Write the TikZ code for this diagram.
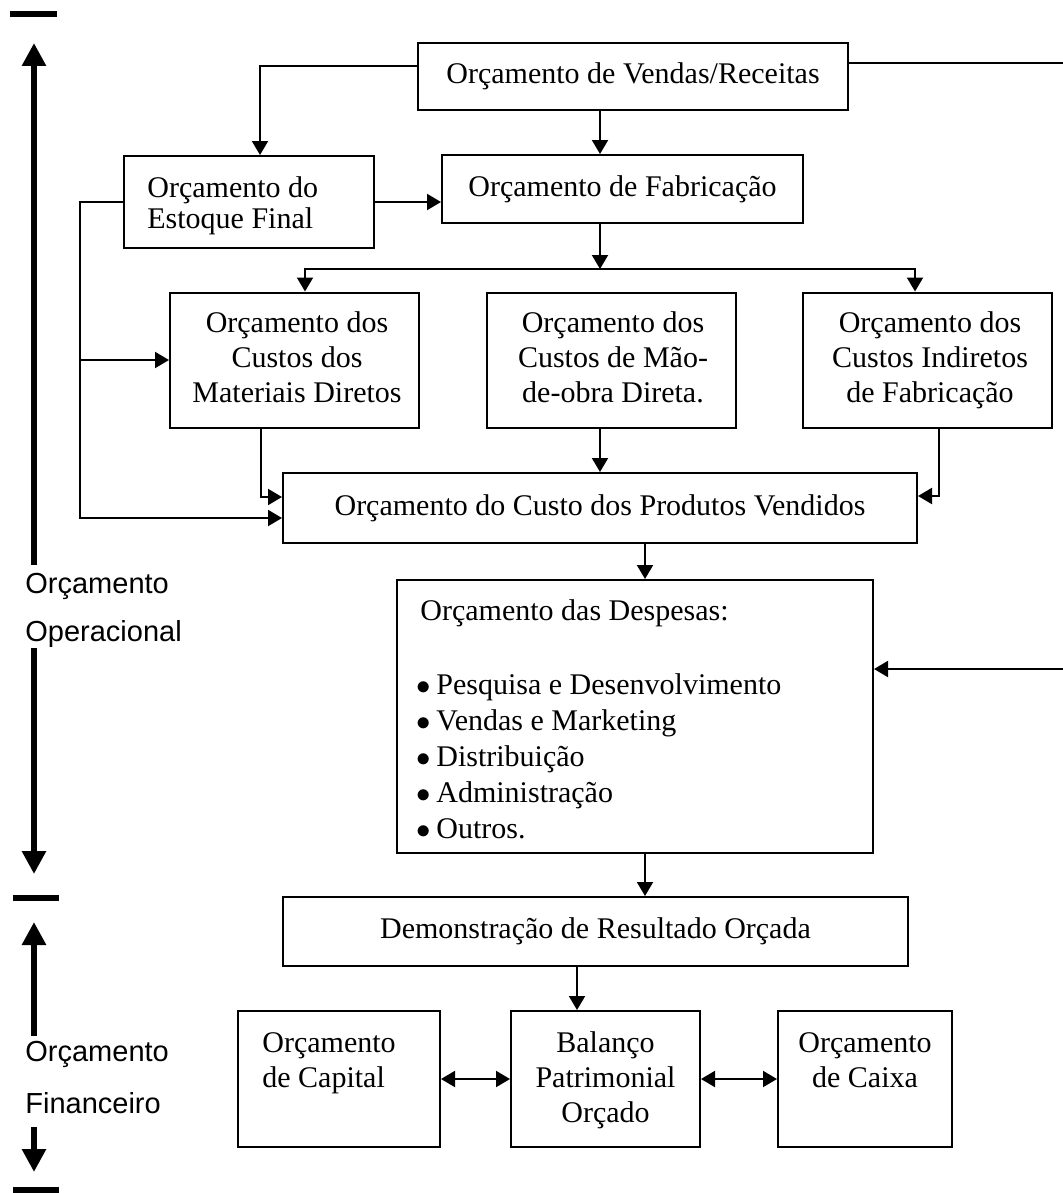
\documentclass[tikz,border=0pt]{standalone}
\usepackage{fontspec}
\setmainfont{Liberation Serif}
\newfontfamily\arialf{Liberation Sans}
\usetikzlibrary{arrows.meta}
\newcommand\txtf{\fontsize{15pt}{18pt}\selectfont}
\newcommand\sanf{\arialf\fontsize{14.5pt}{17pt}\selectfont}
\newcommand\bul{\makebox[10pt][l]{$\bullet$}}
\begin{document}
\begin{tikzpicture}[x=0.5pt,y=-0.5pt,
  box/.style={draw, line width=1pt, inner sep=0pt, font=\txtf},
  txt/.style={inner sep=0pt, font=\txtf, anchor=base},
  ltxt/.style={inner sep=0pt, font=\txtf, anchor=base west},
  stxt/.style={inner sep=0pt, font=\sanf, anchor=base west},
  line/.style={line width=1pt},
  conn/.style={line width=1pt, -{Triangle[width=8pt,length=7pt]}},
  dconn/.style={line width=1pt, {Triangle[width=8pt,length=7pt]}-{Triangle[width=8pt,length=7pt]}},
  big/.style={line width=3pt, -{Triangle[width=11.5pt,length=11.5pt]}},
  tickbar/.style={line width=3pt}
]
\useasboundingbox[fill=white] (0,0) rectangle (1063,1193);

% ---- boxes ----
\node[box, minimum width=215pt, minimum height=33.5pt] (vendas) at (633,76.5) {Orçamento de Vendas/Receitas};
\node[box, minimum width=125pt, minimum height=46pt] (estoque) at (249,202) {};
\node[ltxt] (est1) at (147,197) {Orçamento do};
\node[ltxt] (est2) at (147,228) {Estoque Final};
\node[box, minimum width=180.5pt, minimum height=34pt] (fab) at (622.5,189) {Orçamento de Fabricação};

\node[box, minimum width=124.5pt, minimum height=67.5pt] (materiais) at (294.5,360) {};
\node[txt] (mat1) at (297,332) {Orçamento dos};
\node[txt] (mat2) at (297,367) {Custos dos};
\node[txt] (mat3) at (297,402) {Materiais Diretos};

\node[box, minimum width=124.5pt, minimum height=67.5pt] (mao) at (611.5,360) {};
\node[txt] (mao1) at (613,332) {Orçamento dos};
\node[txt] (mao2) at (613,367) {Custos de Mão-};
\node[txt] (mao3) at (613,402) {de-obra Direta.};

\node[box, minimum width=124.5pt, minimum height=67.5pt] (indiretos) at (927.5,360) {};
\node[txt] (ind1) at (930,332) {Orçamento dos};
\node[txt] (ind2) at (930,367) {Custos Indiretos};
\node[txt] (ind3) at (930,402) {de Fabricação};

\node[box, minimum width=317pt, minimum height=35pt] (cpv) at (600,508) {Orçamento do Custo dos Produtos Vendidos};

\node[box, minimum width=238pt, minimum height=136.5pt] (despesas) at (635,716.5) {};
\node[ltxt] (des0) at (420,620) {Orçamento das Despesas:};
\node[ltxt] (des1) at (416,694) {\bul Pesquisa e Desenvolvimento};
\node[ltxt] (des2) at (416,730) {\bul Vendas e Marketing};
\node[ltxt] (des3) at (416,766) {\bul Distribuição};
\node[ltxt] (des4) at (416,802) {\bul Administração};
\node[ltxt] (des5) at (416,838) {\bul Outros.};

\node[box, minimum width=312.5pt, minimum height=34.5pt] (dem) at (595.5,931.5) {Demonstração de Resultado Orçada};

\node[box, minimum width=101pt, minimum height=68pt] (capital) at (339,1079) {};
\node[ltxt] (cap1) at (262,1052) {Orçamento};
\node[ltxt] (cap2) at (262,1087) {de Capital};

\node[box, minimum width=94.5pt, minimum height=68pt] (balanco) at (605.5,1079) {};
\node[txt] (bal1) at (605.5,1052) {Balanço};
\node[txt] (bal2) at (605.5,1087) {Patrimonial};
\node[txt] (bal3) at (605.5,1122) {Orçado};

\node[box, minimum width=87pt, minimum height=68pt] (caixa) at (865,1079) {};
\node[txt] (cai1) at (865,1052) {Orçamento};
\node[txt] (cai2) at (865,1087) {de Caixa};

% ---- connector coordinates ----
\coordinate (c1) at (260,66);
\coordinate (vr) at (1063,63);
\coordinate (x600) at (600,0);
\coordinate (l1) at (80,202);
\coordinate (l2) at (80,518);
\coordinate (d0) at (600,269);
\coordinate (dl) at (305,269);
\coordinate (dr) at (915,269);
\coordinate (m1) at (261,497);
\coordinate (i1) at (939,496);
\coordinate (k1) at (645,0);
\coordinate (rr) at (1063,669);
\coordinate (b1) at (577,0);

% ---- connectors ----
\draw[conn] (vendas.west |- c1) -| (estoque.north -| c1);
\draw[line] (vendas.east |- vr) -- (vr);
\draw[conn] (vendas.south -| x600) -- (fab.north -| x600);
\draw[conn] (estoque.east) -- (estoque.east -| fab.west);
\draw[conn] (estoque.west) -- (l1) -- (l2) -- (l2 -| cpv.west);
\draw[conn] (l1 |- materiais.west) -- (materiais.west);
\draw[conn] (fab.south -| d0) -- (d0);
\draw[dconn] (materiais.north -| dl) -- (dl) -- (dr) -- (indiretos.north -| dr);
\draw[conn] (mao.south -| d0) -- (cpv.north -| d0);
\draw[conn] (materiais.south -| m1) |- (cpv.west |- m1);
\draw[conn] (indiretos.south -| i1) |- (cpv.east |- i1);
\draw[conn] (cpv.south -| k1) -- (despesas.north -| k1);
\draw[conn] (rr) -- (despesas.east |- rr);
\draw[conn] (despesas.south -| k1) -- (dem.north -| k1);
\draw[conn] (dem.south -| b1) -- (balanco.north -| b1);
\draw[dconn] (capital.east) -- (balanco.west);
\draw[dconn] (balanco.east) -- (caixa.west);

% ---- left scale ----
\node[stxt] (op1) at (25,593) {Orçamento};
\node[stxt] (op2) at (25,641) {Operacional};
\node[stxt] (fi1) at (25,1061) {Orçamento};
\node[stxt] (fi2) at (25,1113) {Financeiro};

\draw[tickbar] (10,14.5) -- (57,14.5);
\draw[tickbar] (13,897.5) -- (59,897.5);
\draw[tickbar] (13,1190) -- (59,1190);

\coordinate (a1) at (34,565);
\coordinate (a2) at (34,43);
\coordinate (a3) at (34,648);
\coordinate (a4) at (34,874);
\coordinate (a5) at (34,1036);
\coordinate (a6) at (34,922);
\coordinate (a7) at (34,1127);
\coordinate (a8) at (34,1172);
\draw[big] (a1) -- (a2);
\draw[big] (a3) -- (a4);
\draw[big] (a5) -- (a6);
\draw[big] (a7) -- (a8);
\end{tikzpicture}
\end{document}
